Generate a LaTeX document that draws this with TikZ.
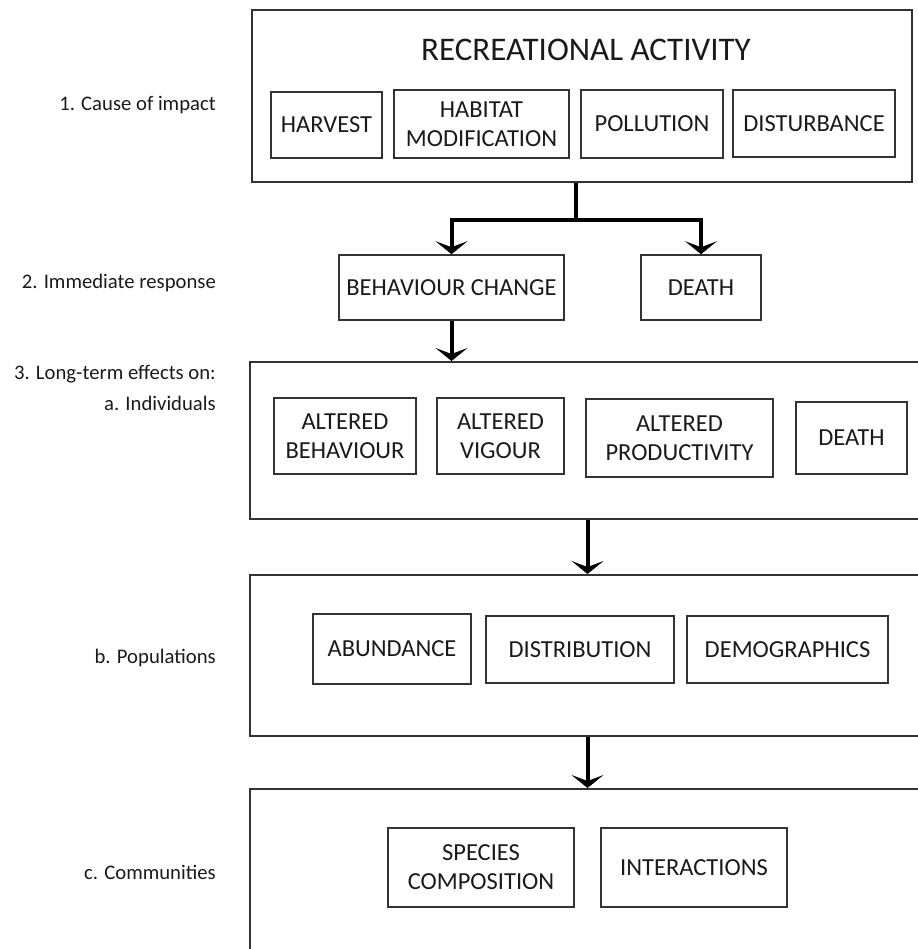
\documentclass[tikz,border=0pt]{standalone}
\usepackage{fontspec}
\setmainfont{Carlito}
\usetikzlibrary{arrows.meta}

\definecolor{inkgray}{HTML}{1A1A1A}
\definecolor{framegray}{HTML}{333333}

\tikzset{
    frame/.style    = {draw=framegray, line width=2pt, inner sep=0pt},
    item/.style     = {draw=framegray, line width=1.6pt, inner sep=0pt, align=center,
                       text=inkgray, font=\fontsize{24.5}{29}\selectfont},
    lbl/.style      = {anchor=east, inner sep=0pt, text=inkgray, font=\fontsize{20.7}{24}\selectfont},
    flow/.style     = {line width=4pt, draw=black,
                       -{Stealth[length=13pt, width=32pt, inset=6pt]}},
}

\begin{document}
\begin{tikzpicture}[x=1pt, y=-1pt]
    \useasboundingbox (0,0) rectangle (917,949);

    % outer frames
    \node[frame, minimum width=660, minimum height=172] (top)    at (582,96)    {};
    \node[frame, minimum width=675, minimum height=157] (indiv)  at (587.5,440.5) {};
    \node[frame, minimum width=675, minimum height=161] (popul)  at (587.5,655.5) {};
    \node[frame, minimum width=675, minimum height=171] (commun) at (587.5,874.5) {};

    % left hand labels
    \node[lbl] (lcause)  at (216,105) {1. Cause of impact};
    \node[lbl] (limm)    at (216,283) {2. Immediate response};
    \node[lbl] (llong)   at (216,374) {3. Long-term effects on:};
    \node[lbl] (lindiv)  at (216,403) {a. Individuals};
    \node[lbl] (lpopul)  at (216,658) {b. Populations};
    \node[lbl] (lcommun) at (216,872) {c. Communities};

    % 1. cause
    \node[text=inkgray, font=\fontsize{33}{38}\selectfont] (title) at (586,50) {RECREATIONAL ACTIVITY};
    \node[item, minimum width=111, minimum height=66] (harvest)   at (326.5,125) {HARVEST};
    \node[item, minimum width=175, minimum height=68] (habitat)   at (481.5,124) {HABITAT\\MODIFICATION};
    \node[item, minimum width=142, minimum height=68] (pollution) at (652,124)   {POLLUTION};
    \node[item, minimum width=162, minimum height=67] (disturb)   at (814,123.5) {DISTURBANCE};

    % 2. immediate response
    \node[item, minimum width=225, minimum height=65] (behav)  at (451.5,287.5) {BEHAVIOUR CHANGE};
    \node[item, minimum width=120, minimum height=65] (death1) at (701,287.5)   {DEATH};

    % 3a. individuals
    \node[item, minimum width=142, minimum height=76] (altbeh)  at (345,436)   {ALTERED\\BEHAVIOUR};
    \node[item, minimum width=127, minimum height=76] (altvig)  at (500.5,436) {ALTERED\\VIGOUR};
    \node[item, minimum width=187, minimum height=78] (altprod) at (679.5,438) {ALTERED\\PRODUCTIVITY};
    \node[item, minimum width=111, minimum height=72] (death2)  at (851.5,438) {DEATH};

    % 3b. populations
    \node[item, minimum width=158, minimum height=70] (abund) at (392,649)     {ABUNDANCE};
    \node[item, minimum width=188, minimum height=67] (distr) at (580,649.5)   {DISTRIBUTION};
    \node[item, minimum width=201, minimum height=67] (demog) at (787.5,649.5) {DEMOGRAPHICS};

    % 3c. communities
    \node[item, minimum width=186, minimum height=79] (species)  at (481,867.5) {SPECIES\\COMPOSITION};
    \node[item, minimum width=186, minimum height=79] (interact) at (694,867.5) {INTERACTIONS};

    % arrows
    \coordinate (fork) at (576,220);
    \draw[flow] (top.south -| fork) -- (fork) -| (behav.north);
    \draw[flow] (fork) -| (death1.north);
    \draw[flow] (behav) -- (behav |- indiv.north);
    \draw[flow] (indiv) -- (popul);
    \draw[flow] (popul) -- (commun.north);
\end{tikzpicture}
\end{document}
